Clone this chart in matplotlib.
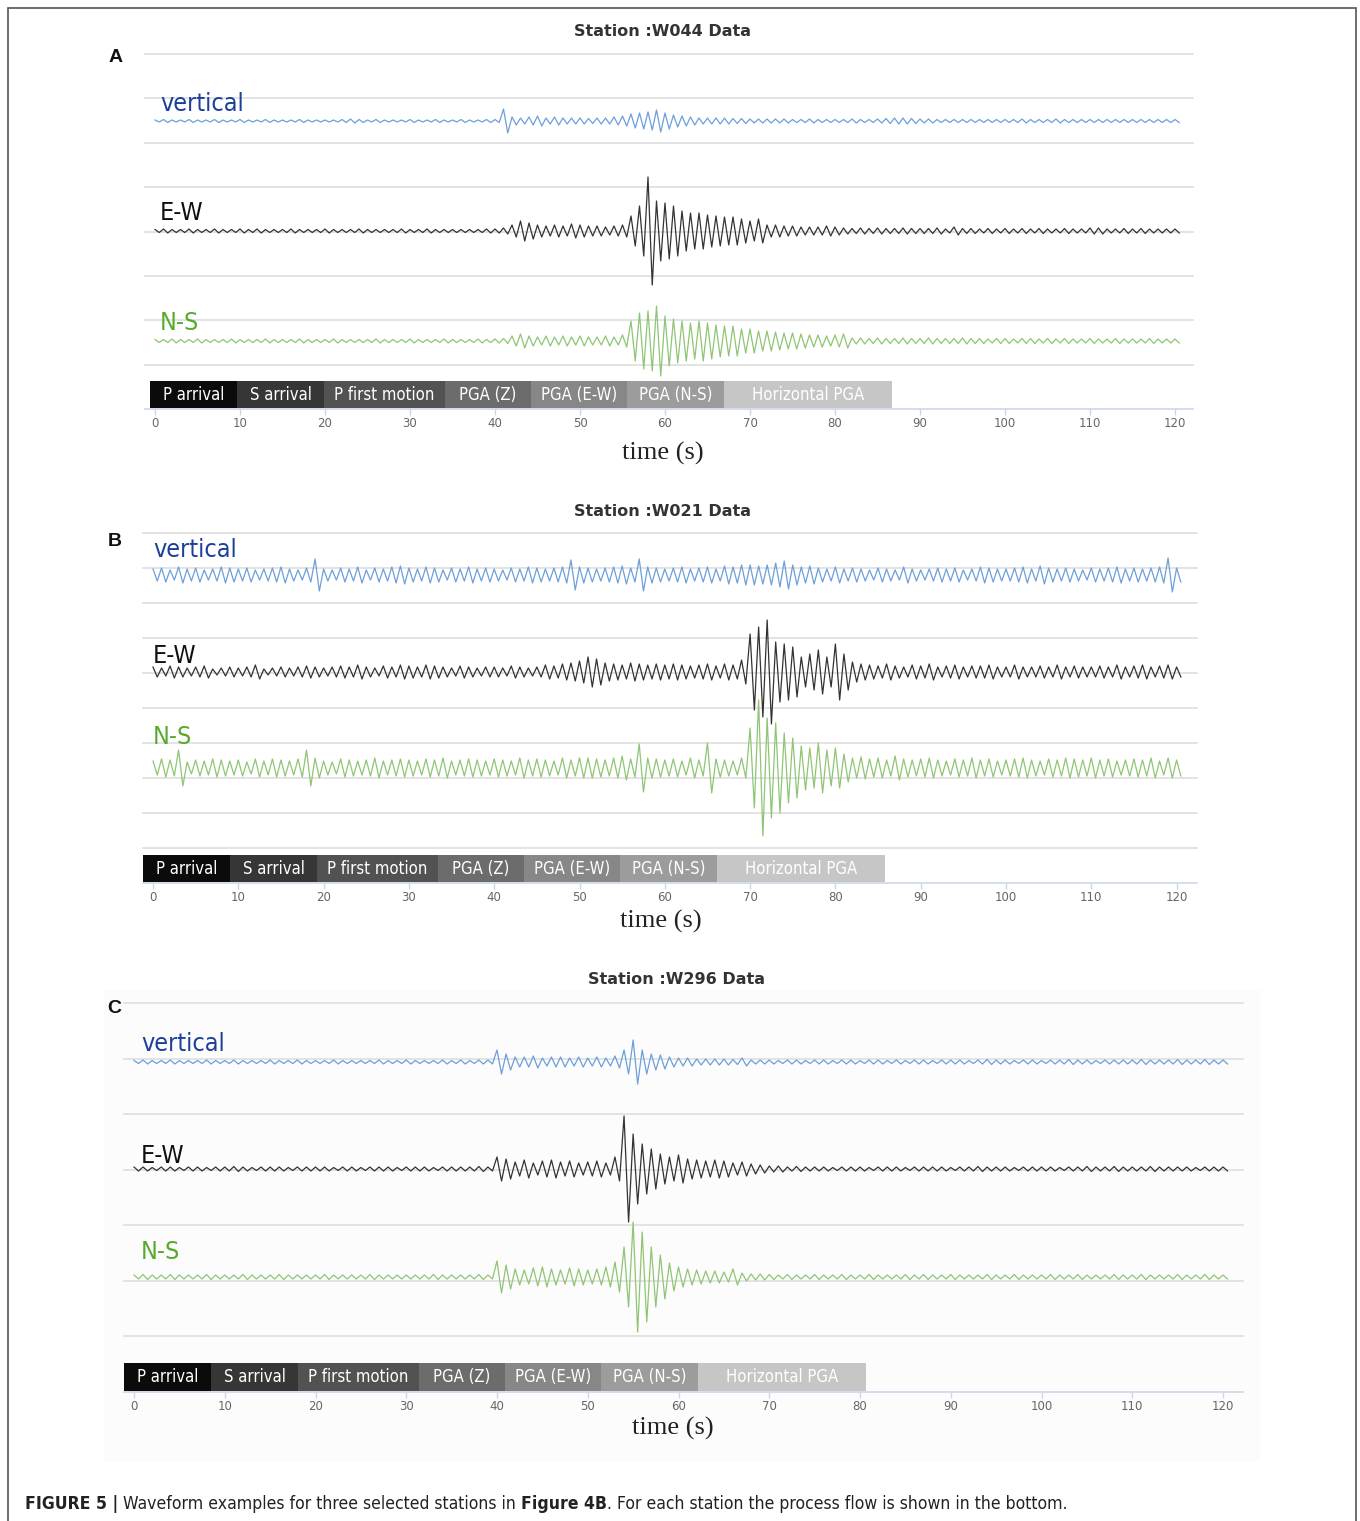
import numpy as np
import matplotlib
matplotlib.use("Agg")
import matplotlib.pyplot as plt
from matplotlib.patches import Rectangle

# peak amplitude of each trace for every second (t = 0..120 s),
# read off the figure in pixels away from the trace baseline
seconds = np.arange(121)

w044_vertical = [
    1, 1.5, 1, 1, 1.5, 1, 1, 1.5, 1, 1,
    1.5, 1, 1, 1.5, 1, 1, 1, 1.5, 1, 1,
    1, 1, 1.5, 2, 1.5, 1, 1.5, 1, 1, 1,
    1.5, 1, 1, 1.5, 1, 1, 1.5, 1, 1, 1.5,
    1.5, 12, 4, 3, 4, 5, 3, 4, 3, 3,
    3, 2.5, 3, 3, 4, 5, 7, 8, 9, 11,
    8, 6, 5, 4, 3, 3, 3, 3, 2.5, 2.5,
    2, 2, 2, 2, 2, 1.5, 1.5, 2, 1.5, 1.5,
    1.5, 1.5, 2, 1.5, 1.5, 2, 2.5, 3, 3, 2.5,
    2, 2, 1.5, 1.5, 1.5, 1.5, 1.5, 1.5, 1.5, 1.5,
    1.5, 1.5, 2, 1.5, 1.5, 1.5, 2, 1.5, 1.5, 1.5,
    1.5, 1.5, 1.5, 1.5, 1.5, 1.5, 1.5, 1.5, 1.5, 1.5, 1.5]
w044_ew = [
    1.5, 2, 1.5, 1.5, 2, 1.5, 1.5, 2, 1.5, 1.5,
    2, 1.5, 2, 1.5, 1.5, 1.5, 2, 1.5, 1.5, 1.5,
    2, 1.5, 1.5, 1.5, 2, 1.5, 1.5, 1.5, 1.5, 2,
    1.5, 1.5, 2, 1.5, 1.5, 1.5, 1.5, 1.5, 1.5, 2,
    2, 3, 6, 10, 8, 6, 5, 6, 5, 7,
    6, 5, 5, 4, 5, 6, 15, 25, 54, 30,
    28, 25, 20, 18, 18, 16, 15, 14, 14, 12,
    10, 12, 6, 6, 5, 5, 4, 4, 4, 5,
    4, 3, 2.5, 3, 2.5, 3, 2.5, 2.5, 3, 2.5,
    2.5, 2.5, 3, 2, 4, 2.5, 2.5, 2, 2.5, 2,
    2.5, 2, 2.5, 2, 2.5, 2, 2, 2.5, 2, 2,
    3, 3, 2, 2, 2.5, 2, 2.5, 2, 2, 2, 2]
w044_ns = [
    1.5, 1.5, 2, 1.5, 1.5, 2, 1.5, 1.5, 1.5, 2,
    1.5, 1.5, 1.5, 2, 1.5, 1.5, 1.5, 2, 1.5, 1.5,
    1.5, 2, 1.5, 1.5, 1.5, 1.5, 2, 1.5, 1.5, 1.5,
    2, 1.5, 1.5, 1.5, 2, 1.5, 1.5, 1.5, 2, 1.5,
    2, 2.5, 5, 7, 5, 4, 5, 4, 5, 4,
    5, 4, 4, 5, 4, 6, 20, 28, 30, 35,
    25, 22, 20, 18, 20, 18, 16, 15, 15, 12,
    12, 10, 10, 9, 8, 8, 7, 6, 6, 5,
    6, 7, 3, 3, 2.5, 3, 2.5, 2.5, 3, 2.5,
    2.5, 3, 2.5, 2.5, 2.5, 3, 2.5, 2.5, 2, 2.5,
    2.5, 2, 2.5, 2.5, 2, 2.5, 2, 2.5, 2, 2,
    2.5, 2, 2, 2.5, 2, 2, 2, 2.5, 2, 2, 2]

w021_vertical = [
    6, 7, 5, 8, 6, 7, 5, 6, 8, 7,
    6, 7, 5, 6, 7, 8, 6, 5, 7, 16,
    6, 5, 7, 6, 8, 5, 7, 6, 8, 9,
    7, 6, 8, 7, 5, 7, 6, 8, 6, 7,
    6, 5, 7, 6, 8, 7, 6, 7, 8, 15,
    8, 7, 6, 7, 8, 9, 7, 16, 8, 7,
    6, 7, 8, 6, 7, 8, 6, 9, 8, 10,
    10, 9, 10, 12, 14, 10, 8, 9, 7, 6,
    8, 6, 7, 6, 5, 7, 6, 5, 8, 6,
    5, 6, 7, 6, 7, 5, 6, 8, 7, 6,
    6, 7, 8, 6, 9, 7, 6, 7, 6, 5,
    7, 6, 7, 8, 6, 7, 6, 7, 8, 17, 7]
w021_ew = [
    5, 4, 6, 5, 4, 5, 6, 3, 4, 5,
    4, 5, 7, 3, 4, 5, 4, 5, 6, 5,
    4, 5, 6, 5, 7, 5, 4, 6, 5, 7,
    6, 5, 7, 6, 5, 4, 6, 5, 4, 5,
    5, 4, 6, 5, 4, 5, 7, 6, 8, 9,
    11, 15, 13, 9, 8, 7, 9, 8, 7, 8,
    7, 8, 7, 6, 7, 8, 6, 8, 7, 12,
    38, 45, 52, 30, 28, 25, 15, 18, 22, 15,
    28, 18, 10, 8, 7, 6, 8, 6, 5, 7,
    6, 8, 5, 6, 7, 5, 6, 6, 7, 5,
    5, 7, 5, 5, 6, 5, 7, 5, 6, 5,
    5, 6, 5, 7, 5, 6, 7, 5, 6, 7, 5]
w021_ns = [
    7, 9, 8, 18, 6, 8, 7, 9, 8, 7,
    8, 6, 9, 7, 9, 8, 7, 9, 18, 10,
    7, 6, 9, 8, 7, 8, 10, 7, 8, 9,
    8, 7, 9, 8, 10, 7, 8, 9, 8, 7,
    9, 8, 7, 10, 8, 9, 8, 7, 10, 8,
    10, 10, 9, 8, 10, 12, 9, 24, 10, 9,
    8, 9, 7, 10, 8, 25, 9, 8, 7, 10,
    40, 68, 50, 45, 35, 30, 22, 20, 25, 18,
    20, 14, 10, 11, 9, 10, 8, 12, 9, 8,
    9, 10, 8, 7, 9, 8, 10, 8, 9, 7,
    8, 9, 10, 8, 7, 9, 8, 10, 9, 8,
    10, 8, 9, 7, 8, 9, 8, 10, 7, 10, 8]

w296_vertical = [
    1.5, 2, 1.5, 1.5, 2, 1.5, 1.5, 1.5, 2, 1.5,
    1.5, 2, 1.5, 1.5, 1.5, 2, 1.5, 1.5, 2, 1.5,
    1.5, 1.5, 2, 1.5, 1.5, 1.5, 1.5, 2, 1.5, 1.5,
    2, 1.5, 1.5, 1.5, 2, 1.5, 2, 1.5, 2, 2,
    12, 8, 5, 5, 6, 4, 5, 5, 4, 5,
    4, 5, 4, 6, 12, 22, 12, 8, 7, 5,
    4, 4, 3, 3, 3, 3, 2.5, 4, 2, 2,
    2, 1.5, 2, 2, 1.5, 2, 2, 1.5, 2, 2,
    1.5, 2, 2, 1.5, 2, 1.5, 2, 2, 1.5, 2,
    2, 2, 1.5, 2, 2.5, 2, 2, 1.5, 2, 2,
    1.5, 2, 2, 2.5, 2, 2, 1.5, 2, 2, 2,
    2, 2.5, 2, 2, 2, 2.5, 2, 2, 2.5, 2, 2]
w296_ew = [
    2, 2, 1.5, 2, 2, 1.5, 2, 2, 1.5, 2,
    2, 2.5, 2, 1.5, 2, 2, 2, 1.5, 2, 2,
    2, 2, 1.5, 2, 2, 1.5, 2, 2, 2, 1.5,
    2, 2, 2, 1.5, 2, 2, 2, 2, 2.5, 2,
    12, 10, 7, 9, 6, 8, 9, 7, 8, 6,
    7, 8, 6, 12, 53, 35, 25, 20, 15, 12,
    14, 10, 9, 8, 9, 8, 6, 7, 5, 4,
    3, 3, 2, 2.5, 2, 2, 2, 1.5, 2, 2,
    2, 1.5, 2, 2, 2, 1.5, 2, 2, 2, 2,
    1.5, 2, 2, 2.5, 2, 2, 2, 1.5, 2, 2,
    2, 2, 1.5, 2, 2, 2.5, 2, 2, 2.5, 2,
    2, 2, 2.5, 2, 2, 2, 2, 1.5, 2, 2, 2]
w296_ns = [
    2, 2.5, 2, 2, 2.5, 2, 2, 2, 2.5, 2,
    2, 2, 2.5, 2, 2, 2, 2.5, 2, 2, 2,
    2, 2.5, 2, 2, 2, 2, 2.5, 2, 2, 2,
    2, 2, 2, 2.5, 2, 2, 2, 2, 2.5, 2,
    16, 12, 8, 7, 9, 10, 8, 7, 9, 8,
    7, 8, 10, 15, 30, 55, 45, 30, 22, 14,
    10, 8, 7, 6, 6, 5, 8, 4, 3, 3,
    2.5, 2, 2.5, 2, 2, 2.5, 2, 2, 2.5, 2,
    2, 2.5, 2, 2, 2, 2.5, 2, 2.5, 2, 2,
    2.5, 2, 2, 2, 2.5, 2, 2, 2.5, 2, 2,
    2, 2.5, 2, 2, 2.5, 2, 2, 2, 2.5, 2,
    2, 2.5, 2, 2, 2, 2.5, 2, 2, 2.5, 2, 2]

stations = ["W044", "W021", "W296"]
panel_letters = ["A", "B", "C"]
components = ["vertical", "E-W", "N-S"]
traces = [
    [w044_vertical, w044_ew, w044_ns],
    [w021_vertical, w021_ew, w021_ns],
    [w296_vertical, w296_ew, w296_ns],
]
stages = ["P arrival", "S arrival", "P first motion", "PGA (Z)",
          "PGA (E-W)", "PGA (N-S)", "Horizontal PGA"]
time_ticks = list(range(0, 121, 10))

# ---- styles / layout (pixel positions in the 1360x1521 figure) ----------
W, H = 1360, 1521
stage_px = [87, 87, 121, 86, 96, 97, 168]
stage_colors = ["#0b0b0b", "#363636", "#525252", "#6c6c6c",
                "#878787", "#9c9c9c", "#c6c6c6"]
trace_colors = ["#6d9fd9", "#333333", "#8fc574"]
label_colors = ["#1c3f9a", "#111111", "#58aa2c"]

panels = [
    dict(x0=145, x1=1193, y0=54, y1=409, t0=155, pps=8.5, ngrid=9,
         base=[121, 231, 341], lx=160, ly=[104, 213, 323],
         bar=(150, 381, 408), title=(663, 31), letter=(116, 58), xlab=(663, 453)),
    dict(x0=143, x1=1197, y0=533, y1=883, t0=153, pps=8.53, ngrid=11,
         base=[575, 672, 768], lx=153, ly=[550, 656, 737],
         bar=(143, 855, 882), title=(663, 511), letter=(115, 541), xlab=(661, 921)),
    dict(x0=124, x1=1243, y0=1003, y1=1392, t0=134, pps=9.075, ngrid=8,
         base=[1062, 1169, 1277], lx=141, ly=[1044, 1156, 1252],
         bar=(124, 1363, 1391), title=(677, 979), letter=(114, 1008), xlab=(673, 1428)),
]


def px_axes(fig, x0, y0, x1, y1):
    return fig.add_axes([x0 / W, 1 - y1 / H, (x1 - x0) / W, (y1 - y0) / H])


def fx(x):
    return x / W


def fy(y):
    return 1 - y / H


fig = plt.figure(figsize=(W / 100, H / 100), dpi=100)

# faint background behind panel C and the outer frame
fig.patches.append(Rectangle((fx(104), fy(1460)), fx(1259) - fx(104), fy(990) - fy(1460),
                             transform=fig.transFigure, color="#fcfcfc", zorder=-5))
fig.patches.append(Rectangle((fx(8), fy(1530)), fx(1356) - fx(8), fy(8) - fy(1530),
                             transform=fig.transFigure, fill=False, ec="#555555", lw=1.2))

for i, p in enumerate(panels):
    ax = px_axes(fig, p["x0"], p["y0"], p["x1"], p["y1"])
    ax.set_xlim((p["x0"] - p["t0"]) / p["pps"], (p["x1"] - p["t0"]) / p["pps"])
    ax.set_ylim(p["y1"], p["y0"])
    ax.patch.set_alpha(0)
    for gy in np.linspace(p["y0"], p["y1"], p["ngrid"])[:-1]:
        ax.axhline(gy, color="#dedede", lw=1.2, zorder=0, clip_on=False)

    for k, amp in enumerate(traces[i]):
        amp = np.asarray(amp, dtype=float)
        # draw each second as its max / min swing (min-max decimation)
        x = np.repeat(seconds, 2).astype(float)
        x[1::2] += 0.5
        y = np.empty_like(x)
        y[0::2] = amp
        y[1::2] = -amp
        ax.plot(x, p["base"][k] - y, color=trace_colors[k], lw=0.9, zorder=2)
        fig.text(fx(p["lx"]), fy(p["ly"][k]), components[k], color=label_colors[k],
                 fontsize=18, fontstretch="condensed", va="center", ha="left")

    for s in ["top", "left", "right"]:
        ax.spines[s].set_visible(False)
    ax.spines["bottom"].set_color("#ccd6eb")
    ax.spines["bottom"].set_linewidth(1.2)
    ax.set_yticks([])
    ax.set_xticks(time_ticks)
    ax.tick_params(axis="x", length=4, width=1, color="#ccd6eb",
                   labelcolor="#666666", labelsize=8.5, pad=2)

    # process flow bar
    bx, by0, by1 = p["bar"]
    bax = px_axes(fig, bx, by0, bx + sum(stage_px), by1)
    lefts = np.concatenate([[0], np.cumsum(stage_px)[:-1]])
    bax.barh(0.5, stage_px, left=lefts, height=1, color=stage_colors, lw=0)
    for name, l, w in zip(stages, lefts, stage_px):
        bax.text(l + w / 2, 0.5, name, color="white", ha="center", va="center",
                 fontsize=12, fontstretch="condensed")
    bax.set_xlim(0, sum(stage_px))
    bax.set_ylim(0, 1)
    bax.axis("off")

    fig.text(fx(p["title"][0]), fy(p["title"][1]), f"Station :{stations[i]} Data",
             ha="center", va="center", fontsize=11.5, fontweight="bold", color="#333333")
    fig.text(fx(p["letter"][0]), fy(p["letter"][1]), panel_letters[i],
             ha="center", va="center", fontsize=14, fontweight="bold",
             family="Liberation Sans", color="#111111")
    fig.text(fx(p["xlab"][0]), fy(p["xlab"][1]), "time (s)", ha="center", va="center",
             fontsize=19, family="Liberation Serif", color="#222222")

# caption, bold and regular pieces placed one after another
caption = [("FIGURE 5 |", "bold"), (" Waveform examples for three selected stations in ", "normal"),
           ("Figure 4B", "bold"), (". For each station the process flow is shown in the bottom.", "normal")]
renderer = fig.canvas.get_renderer()
cx = fx(25)
for txt, wt in caption:
    t = fig.text(cx, fy(1504), txt, fontsize=12.6, fontweight=wt, fontstretch="condensed",
                 color="#222222", va="center", ha="left")
    bb = t.get_window_extent(renderer)
    cx += bb.width / W

fig.savefig("out.png", dpi=100)
